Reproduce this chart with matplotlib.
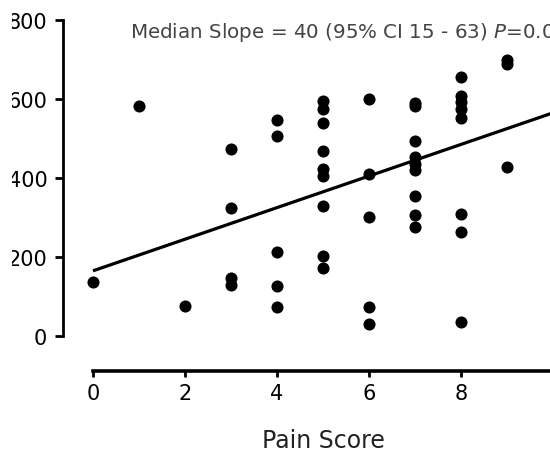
import matplotlib
matplotlib.use("Agg")
import matplotlib.pyplot as plt
from matplotlib.patches import Rectangle
import numpy as np

plt.rcParams['font.family'] = ['DejaVu Sans']
plt.rcParams['mathtext.fontset'] = 'dejavusans'

# Data
pain_scores = [0, 1, 2, 3, 4, 5, 6, 7, 8, 9]
values_by_score = [
    [137],
    [582],
    [76],
    [473, 324, 147, 130],
    [547, 506, 212, 127, 73],
    [595, 575, 539, 468, 423, 405, 329, 203, 172],
    [600, 410, 301, 73, 30],
    [590, 583, 494, 453, 435, 420, 354, 306, 276],
    [656, 608, 592, 575, 552, 309, 263, 35],
    [698, 688, 428],
]
fit_intercept = 165
fit_slope = 40
fit_x = [0, 10]
x_ticks = [0, 2, 4, 6, 8]
y_ticks = [0, 200, 400, 600, 800]
annotation = r"Median Slope = 40 (95% CI 15 - 63) $\it{P}$=0.00"
x_label = "Pain Score"

W, H = 550, 452
fig = plt.figure(figsize=(W / 100, H / 100), dpi=100)

# axes placement in pixels
left_px, right_px = 63, 550
top_px, bottom_px = 12, 372
ax = fig.add_axes([left_px / W, (H - bottom_px) / H,
                   (right_px - left_px) / W, (bottom_px - top_px) / H])

px_per_x = 46.0
x0_px = 93
px_per_y = 79.0 / 200.0
y0_px = 337
ax.set_xlim((left_px - x0_px) / px_per_x, (right_px - x0_px) / px_per_x)
ax.set_ylim(-(bottom_px - y0_px) / px_per_y, (y0_px - top_px) / px_per_y)

xs, ys = [], []
for s, vals in zip(pain_scores, values_by_score):
    for v in vals:
        xs.append(s)
        ys.append(v)
ax.plot(xs, ys, 'o', color='black', markersize=8.7, markeredgewidth=0, clip_on=False, zorder=3)

fx = np.array(fit_x, dtype=float)
ax.plot(fx, fit_intercept + fit_slope * fx, color='black', lw=2.3, solid_capstyle='butt', zorder=2)

for side in ['top', 'right']:
    ax.spines[side].set_visible(False)
ax.spines['left'].set_linewidth(2.0)
ax.spines['bottom'].set_linewidth(2.6)
ax.spines['left'].set_bounds(0, 800)
ax.spines['bottom'].set_bounds(0, 10)

ax.set_xticks(x_ticks)
ax.set_yticks(y_ticks)
ax.tick_params(axis='both', direction='out', width=2.0, labelsize=15, colors='black')
ax.tick_params(axis='x', length=4.5, pad=4.5)
ax.tick_params(axis='y', length=5.8, pad=5.5)

ax.text(5, -(448 - y0_px) / px_per_y, x_label, ha='center', va='baseline', fontsize=17, color='#222222')
ax.text((130 - x0_px) / px_per_x, (y0_px - 38) / px_per_y, annotation, ha='left', va='baseline',
        fontsize=14.3, color='#444444')

# the reference picture is cropped: a blank strip hides the left edge of the y labels
fig.add_artist(Rectangle((0, 0), 12 / W, 1, transform=fig.transFigure,
                         facecolor='white', edgecolor='none', zorder=10))

fig.savefig("out.png", dpi=100)
